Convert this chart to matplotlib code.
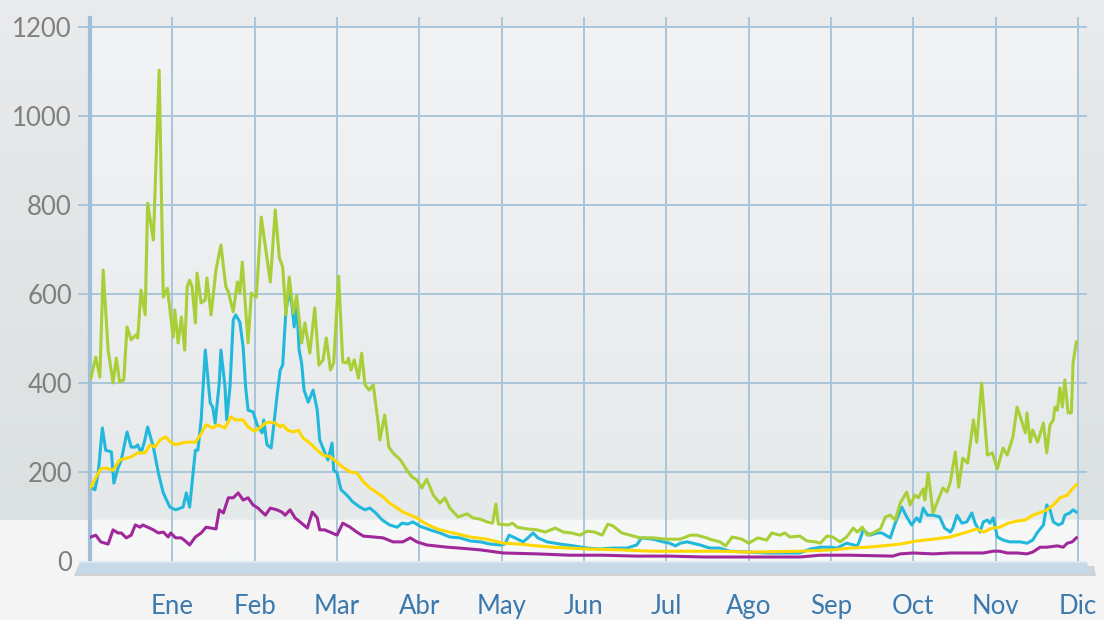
import numpy as np
import matplotlib
matplotlib.use('Agg')
import matplotlib.pyplot as plt
from matplotlib.patches import Polygon
from matplotlib.colors import to_rgb

# Etiquetas de meses y escala del eje Y
meses = ['Ene', 'Feb', 'Mar', 'Abr', 'May', 'Jun', 'Jul', 'Ago', 'Sep', 'Oct', 'Nov', 'Dic']
y_ticks = [0, 200, 400, 600, 800, 1000, 1200]

# Serie verde (posición en meses, valor)
verde_x = [0.01, 0.07, 0.12, 0.16, 0.22, 0.28, 0.32, 0.36, 0.41, 0.45, 0.50, 0.56, 0.58, 0.62, 0.67, 0.70,
           0.77, 0.84, 0.89, 0.94, 1.01, 1.03, 1.07, 1.11, 1.15, 1.18, 1.21, 1.24, 1.28, 1.30, 1.35, 1.40,
           1.42, 1.47, 1.53, 1.59, 1.65, 1.68, 1.74, 1.79, 1.82, 1.85, 1.92, 1.96, 2.02, 2.08, 2.19, 2.25,
           2.30, 2.34, 2.38, 2.42, 2.47, 2.51, 2.57, 2.61, 2.67, 2.73, 2.78, 2.83, 2.87, 2.92, 2.96, 3.02,
           3.07, 3.12, 3.14, 3.17, 3.21, 3.26, 3.30, 3.34, 3.39, 3.44, 3.50, 3.52, 3.58, 3.63, 3.68, 3.77,
           3.85, 3.91, 3.97, 4.03, 4.09, 4.17, 4.25, 4.31, 4.37, 4.47, 4.58, 4.65, 4.74, 4.82, 4.89, 4.93,
           4.96, 5.08, 5.13, 5.19, 5.31, 5.43, 5.53, 5.65, 5.75, 5.85, 5.95, 6.04, 6.13, 6.22, 6.29, 6.35,
           6.46, 6.56, 6.68, 6.84, 7.01, 7.17, 7.29, 7.37, 7.49, 7.53, 7.65, 7.72, 7.80, 7.92, 8.00, 8.11,
           8.22, 8.28, 8.38, 8.44, 8.50, 8.62, 8.71, 8.81, 8.87, 8.95, 9.02, 9.11, 9.19, 9.27, 9.32, 9.38,
           9.44, 9.51, 9.60, 9.66, 9.72, 9.78, 9.84, 9.92, 9.96, 10.02, 10.06, 10.12, 10.14, 10.18, 10.24,
           10.30, 10.36, 10.41, 10.45, 10.51, 10.55, 10.60, 10.66, 10.73, 10.77, 10.83, 10.90, 10.96, 11.02,
           11.09, 11.14, 11.21, 11.26, 11.32, 11.36, 11.38, 11.42, 11.45, 11.51, 11.58, 11.62, 11.66, 11.70,
           11.72, 11.75, 11.78, 11.81, 11.84, 11.88, 11.92, 11.94, 11.98]
verde_y = [411, 458, 413, 654, 474, 400, 456, 402, 407, 526, 497, 508, 501, 609, 553, 804,
           721, 1103, 593, 613, 503, 564, 490, 548, 474, 616, 631, 616, 535, 647, 580, 587,
           636, 553, 654, 710, 616, 605, 560, 627, 602, 672, 490, 602, 593, 773, 627, 789,
           681, 661, 553, 638, 557, 596, 490, 535, 467, 569, 440, 452, 501, 429, 445, 640,
           447, 445, 456, 429, 452, 411, 467, 396, 384, 396, 310, 272, 328, 256, 243, 227,
           204, 189, 182, 164, 184, 148, 130, 142, 119, 99, 106, 97, 94, 88, 85, 128,
           83, 81, 85, 76, 72, 70, 65, 74, 65, 63, 58, 67, 65, 58, 83, 79,
           63, 58, 52, 52, 49, 49, 58, 58, 52, 49, 43, 34, 54, 49, 40, 52,
           47, 63, 58, 63, 54, 56, 45, 43, 40, 56, 54, 43, 54, 74, 65, 76,
           58, 63, 72, 99, 103, 92, 130, 155, 126, 148, 142, 162, 137, 198, 108,
           137, 164, 155, 178, 245, 166, 231, 220, 317, 267, 400, 238, 243, 207,
           254, 238, 279, 346, 312, 288, 333, 267, 294, 267, 310, 243, 306, 317,
           346, 339, 389, 346, 407, 333, 333, 445, 492]

# Serie cian
cian_x = [0.01, 0.06, 0.10, 0.15, 0.19, 0.26, 0.29, 0.34, 0.38, 0.45, 0.50, 0.55, 0.58, 0.62, 0.66, 0.70,
          0.77, 0.83, 0.89, 0.97, 1.04, 1.13, 1.17, 1.21, 1.28, 1.31, 1.35, 1.40, 1.46, 1.49, 1.52, 1.57,
          1.59, 1.64, 1.66, 1.70, 1.74, 1.77, 1.82, 1.86, 1.89, 1.92, 1.98, 2.03, 2.09, 2.11, 2.15, 2.20,
          2.23, 2.27, 2.31, 2.34, 2.38, 2.42, 2.45, 2.48, 2.51, 2.54, 2.57, 2.60, 2.65, 2.71, 2.76, 2.79,
          2.84, 2.89, 2.94, 2.96, 3.00, 3.05, 3.12, 3.19, 3.28, 3.34, 3.40, 3.47, 3.55, 3.64, 3.73, 3.79,
          3.86, 3.92, 4.01, 4.13, 4.25, 4.37, 4.49, 4.62, 4.74, 4.86, 4.98, 5.04, 5.09, 5.16, 5.26, 5.32,
          5.38, 5.44, 5.55, 5.71, 5.87, 6.04, 6.19, 6.35, 6.52, 6.64, 6.70, 6.84, 6.96, 7.04, 7.11, 7.17,
          7.25, 7.32, 7.41, 7.53, 7.65, 7.77, 8.02, 8.22, 8.42, 8.62, 8.75, 8.87, 8.99, 9.07, 9.19, 9.32,
          9.35, 9.39, 9.47, 9.56, 9.62, 9.72, 9.78, 9.86, 9.92, 9.98, 10.04, 10.08, 10.12, 10.17, 10.24,
          10.32, 10.38, 10.45, 10.48, 10.53, 10.59, 10.65, 10.71, 10.75, 10.81, 10.85, 10.90, 10.93, 10.97,
          11.02, 11.09, 11.17, 11.30, 11.38, 11.45, 11.51, 11.58, 11.62, 11.66, 11.70, 11.76, 11.81, 11.84,
          11.90, 11.94, 11.98]
cian_y = [166, 160, 198, 299, 249, 245, 175, 209, 227, 290, 256, 256, 261, 243, 267, 301,
          256, 198, 153, 121, 115, 121, 153, 121, 249, 249, 317, 474, 355, 346, 310, 400,
          474, 391, 317, 391, 542, 553, 537, 481, 391, 339, 335, 306, 288, 317, 261, 254,
          301, 369, 429, 440, 564, 602, 580, 526, 580, 474, 445, 384, 357, 384, 339, 272,
          249, 227, 265, 204, 198, 160, 148, 133, 121, 115, 119, 108, 92, 81, 76, 85,
          83, 88, 78, 70, 63, 54, 52, 45, 43, 38, 36, 38, 58, 52, 43, 52,
          63, 52, 43, 38, 34, 29, 27, 29, 29, 36, 52, 49, 43, 40, 34, 40,
          43, 40, 36, 29, 29, 22, 20, 18, 18, 18, 27, 31, 31, 29, 40, 34,
          47, 70, 58, 63, 63, 52, 85, 121, 99, 81, 97, 88, 119, 103, 103,
          99, 74, 65, 74, 103, 85, 88, 108, 85, 65, 88, 92, 85, 97,
          54, 47, 43, 43, 40, 47, 65, 81, 126, 115, 88, 81, 85, 103,
          108, 115, 110]

# Serie amarilla
amarillo_x = [0.01, 0.07, 0.13, 0.19, 0.28, 0.36, 0.44, 0.50, 0.58, 0.67, 0.73, 0.79, 0.85, 0.92, 0.98, 1.04,
              1.11, 1.17, 1.28, 1.34, 1.41, 1.49, 1.55, 1.64, 1.71, 1.77, 1.86, 1.92, 2.00, 2.06, 2.13, 2.19,
              2.25, 2.31, 2.34, 2.40, 2.47, 2.53, 2.59, 2.67, 2.76, 2.83, 2.92, 3.00, 3.07, 3.16, 3.24, 3.32,
              3.40, 3.49, 3.56, 3.64, 3.73, 3.80, 3.89, 3.97, 4.04, 4.13, 4.25, 4.41, 4.62, 4.82, 5.02, 5.22,
              5.43, 5.62, 5.83, 6.04, 6.44, 6.84, 7.65, 8.02, 8.62, 9.02, 9.23, 9.44, 9.63, 9.84, 10.04, 10.24,
              10.45, 10.65, 10.77, 10.85, 10.96, 11.05, 11.15, 11.26, 11.36, 11.45, 11.56, 11.62, 11.70, 11.78,
              11.87, 11.93, 11.98]
amarillo_y = [166, 187, 207, 209, 204, 227, 231, 234, 243, 243, 261, 256, 272, 279, 267, 261,
              265, 267, 267, 283, 306, 299, 306, 299, 324, 317, 317, 301, 292, 299, 310, 312,
              310, 301, 306, 294, 290, 294, 276, 265, 249, 238, 234, 222, 211, 200, 198, 178,
              164, 153, 144, 130, 119, 110, 103, 97, 88, 79, 70, 63, 54, 49, 40, 38,
              34, 31, 29, 27, 25, 22, 22, 20, 22, 25, 29, 31, 34, 38, 45, 49,
              54, 65, 72, 65, 74, 76, 85, 90, 92, 103, 110, 115, 126, 142,
              148, 162, 171]

# Serie morada
morado_x = [0.01, 0.07, 0.13, 0.22, 0.28, 0.34, 0.38, 0.44, 0.50, 0.55, 0.61, 0.64, 0.70, 0.77, 0.83, 0.89,
            0.95, 0.98, 1.04, 1.11, 1.17, 1.21, 1.28, 1.35, 1.41, 1.47, 1.53, 1.57, 1.62, 1.68, 1.74, 1.80,
            1.86, 1.92, 1.98, 2.04, 2.13, 2.19, 2.27, 2.33, 2.37, 2.43, 2.49, 2.55, 2.64, 2.70, 2.76, 2.79,
            2.85, 2.94, 3.00, 3.07, 3.16, 3.24, 3.32, 3.44, 3.56, 3.68, 3.80, 3.89, 3.97, 4.09, 4.34, 4.49,
            4.74, 4.94, 5.02, 5.43, 5.83, 6.23, 6.64, 7.04, 7.45, 8.02, 8.62, 8.87, 9.23, 9.75, 9.84, 10.00,
            10.24, 10.45, 10.85, 10.97, 11.05, 11.14, 11.26, 11.38, 11.45, 11.54, 11.62, 11.75, 11.82, 11.87,
            11.93, 11.98]
morado_y = [54, 58, 43, 38, 70, 63, 63, 52, 58, 81, 76, 81, 76, 70, 63, 65,
            54, 63, 52, 52, 43, 36, 54, 63, 76, 74, 72, 115, 108, 142, 142, 153,
            137, 142, 126, 119, 103, 119, 115, 110, 103, 115, 97, 88, 74, 110, 97, 70,
            70, 63, 58, 85, 76, 65, 56, 54, 52, 43, 43, 52, 43, 36, 31, 29,
            25, 20, 18, 16, 13, 13, 11, 11, 9, 9, 9, 13, 13, 11, 16, 18,
            16, 18, 18, 22, 22, 18, 18, 16, 20, 31, 31, 34, 31, 40,
            43, 52]

W, H = 1104, 620
fig = plt.figure(figsize=(W / 100, H / 100), dpi=100)

# Fondo general: gris degradado arriba, franja clara abajo
bg = fig.add_axes([0, 0, 1, 1], zorder=-10)
bg.axis('off')
img = np.zeros((H, W, 3))
top_c, mid_c, low_c = np.array(to_rgb('#e9ebec')), np.array(to_rgb('#dbe0e1')), np.array(to_rgb('#f4f4f4'))
split = 520
for r in range(H):
    if r < split:
        t = r / split
        img[r] = top_c * (1 - t) + mid_c * t
    else:
        img[r] = low_c
bg.imshow(img, aspect='auto', extent=(0, 1, 0, 1))
bg.set_xlim(0, 1)
bg.set_ylim(0, 1)

ax = fig.add_axes([90 / W, 59 / H, 988 / W, 534 / H])
ax.set_xlim(0, 12)
ax.set_ylim(0, 1200)

# Fondo del área de trazado
band = (561 - 520) / 0.445
n = 400
vals = np.linspace(1200, 0, n)
pimg = np.zeros((n, 1, 3))
c_top, c_bot, c_low = np.array(to_rgb('#f2f3f4')), np.array(to_rgb('#e6e9ea')), np.array(to_rgb('#f6f7f7'))
for i, v in enumerate(vals):
    if v > band:
        t = (1200 - v) / (1200 - band)
        pimg[i, 0] = c_top * (1 - t) + c_bot * t
    else:
        pimg[i, 0] = c_low
ax.imshow(pimg, aspect='auto', extent=(0, 12, 0, 1200), zorder=0)

for s in ax.spines.values():
    s.set_visible(False)

grid_c = '#a9c6da'
for v in y_ticks[1:]:
    ax.axhline(v, xmin=-0.011, xmax=1.008, color=grid_c, lw=1.4, clip_on=False, zorder=1)
for m in range(1, 13):
    ax.axvline(m, ymin=0, ymax=1.017, color=grid_c, lw=1.4, clip_on=False, zorder=1)
ax.axvline(0, ymin=0, ymax=1.017, color='#9fc0d8', lw=3, clip_on=False, zorder=1)

# Líneas de datos
lw = 2.2
ax.plot(morado_x, morado_y, color='#a0289a', lw=lw, zorder=3, solid_joinstyle='round')
ax.plot(cian_x, cian_y, color='#22b8dc', lw=lw, zorder=4, solid_joinstyle='round')
ax.plot(amarillo_x, amarillo_y, color='#ffd700', lw=lw, zorder=5, solid_joinstyle='round')
ax.plot(verde_x, verde_y, color='#a8cf38', lw=lw, zorder=6, solid_joinstyle='round')

# Base azul bajo el eje
def px(x, y):
    return (x / W, 1 - y / H)

sombra = Polygon([px(78, 566), px(1094, 566), px(1096, 576), px(74, 576)], closed=True,
                 transform=fig.transFigure, facecolor='#cfd3d6', edgecolor='none', zorder=5)
base = Polygon([px(80, 561), px(1086, 561), px(1092, 573), px(76, 573)], closed=True,
               transform=fig.transFigure, facecolor='#c6d9e8', edgecolor='none', zorder=6)
borde = Polygon([px(80, 561), px(1086, 561), px(1087, 563), px(79, 563)], closed=True,
                transform=fig.transFigure, facecolor='#dae6f0', edgecolor='none', zorder=7)
fig.patches.extend([sombra, base, borde])

ax.set_yticks(y_ticks)
ax.set_yticklabels([str(v) for v in y_ticks], fontfamily='Lato')
ax.tick_params(axis='y', length=0, pad=13, labelcolor='#808080', labelsize=18.5)
ax.set_xticks(range(1, 13))
ax.set_xticklabels(meses, fontfamily='Lato')
ax.tick_params(axis='x', length=0, pad=24, labelcolor='#3b78ad', labelsize=18.5)

fig.savefig('out.png', dpi=100)
